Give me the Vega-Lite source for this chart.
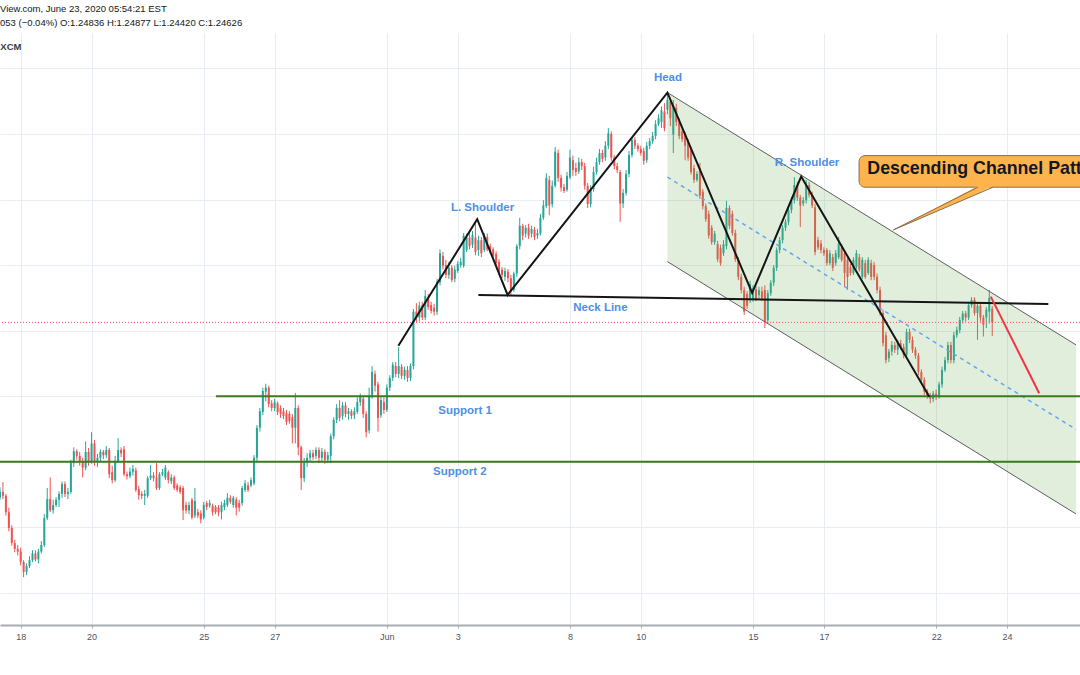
{
"$schema":"https://vega.github.io/schema/vega-lite/v6.json",
"width":1080,"height":592,"autosize":"none",
"padding":{"left":0,"top":33,"right":0,"bottom":50},
"background":"#ffffff",
"title":{"text":"View.com, June 23, 2020 05:54:21 EST","subtitle":"053 (−0.04%) O:1.24836 H:1.24877 L:1.24420 C:1.24626","anchor":"start","frame":"group","offset":6,"font":"Liberation Sans","fontSize":9.5,"fontWeight":"normal","color":"#131722","subtitleFont":"Liberation Sans","subtitleFontSize":9.5,"subtitleColor":"#131722","subtitlePadding":4},
"datasets":{
"candles":[
{"s":0,"o":1.2196,"h":1.2211,"l":1.2192,"c":1.2204},{"s":1,"o":1.2204,"h":1.2219,"l":1.2193,"c":1.2198},{"s":2,"o":1.2198,"h":1.2201,"l":1.2168,"c":1.2173},{"s":3,"o":1.2173,"h":1.218,"l":1.2144,"c":1.2149},{"s":4,"o":1.2149,"h":1.2153,"l":1.2122,"c":1.2126},{"s":5,"o":1.2126,"h":1.2131,"l":1.2112,"c":1.2117},{"s":6,"o":1.2117,"h":1.2123,"l":1.2107,"c":1.2113},{"s":7,"o":1.2113,"h":1.2119,"l":1.2092,"c":1.2097},{"s":8,"o":1.2097,"h":1.21,"l":1.2074,"c":1.2082},{"s":9,"o":1.2082,"h":1.2095,"l":1.2077,"c":1.2091},
{"s":10,"o":1.2091,"h":1.2106,"l":1.2088,"c":1.21},{"s":11,"o":1.21,"h":1.2115,"l":1.2097,"c":1.211},{"s":12,"o":1.211,"h":1.2115,"l":1.2098,"c":1.2101},{"s":13,"o":1.2101,"h":1.2117,"l":1.2095,"c":1.2113},{"s":14,"o":1.2113,"h":1.2129,"l":1.211,"c":1.2123},{"s":15,"o":1.2123,"h":1.217,"l":1.212,"c":1.2164},{"s":16,"o":1.2164,"h":1.221,"l":1.2161,"c":1.2193},{"s":17,"o":1.2193,"h":1.2226,"l":1.2173,"c":1.2176},{"s":18,"o":1.2176,"h":1.2192,"l":1.2171,"c":1.2184},{"s":19,"o":1.2184,"h":1.2196,"l":1.2181,"c":1.2192},
{"s":20,"o":1.2192,"h":1.2205,"l":1.2181,"c":1.2201},{"s":21,"o":1.2201,"h":1.222,"l":1.2195,"c":1.2216},{"s":22,"o":1.2216,"h":1.222,"l":1.2196,"c":1.2201},{"s":23,"o":1.2201,"h":1.221,"l":1.2193,"c":1.2204},{"s":24,"o":1.2204,"h":1.2253,"l":1.2201,"c":1.2248},{"s":25,"o":1.2248,"h":1.2272,"l":1.2242,"c":1.2266},{"s":26,"o":1.2266,"h":1.2269,"l":1.2253,"c":1.2259},{"s":27,"o":1.2259,"h":1.2265,"l":1.2244,"c":1.225},{"s":28,"o":1.225,"h":1.2256,"l":1.2226,"c":1.2241},{"s":29,"o":1.2241,"h":1.2281,"l":1.2237,"c":1.2265},
{"s":30,"o":1.2265,"h":1.2271,"l":1.2244,"c":1.2251},{"s":31,"o":1.2251,"h":1.2295,"l":1.2247,"c":1.2278},{"s":32,"o":1.2278,"h":1.2283,"l":1.2244,"c":1.225},{"s":33,"o":1.225,"h":1.2262,"l":1.2242,"c":1.2256},{"s":34,"o":1.2256,"h":1.2269,"l":1.2251,"c":1.2265},{"s":35,"o":1.2265,"h":1.2268,"l":1.2254,"c":1.226},{"s":36,"o":1.226,"h":1.2274,"l":1.2256,"c":1.2268},{"s":37,"o":1.2268,"h":1.2271,"l":1.2225,"c":1.2231},{"s":38,"o":1.2234,"h":1.2244,"l":1.2217,"c":1.2222},{"s":39,"o":1.2222,"h":1.2259,"l":1.2219,"c":1.2251},
{"s":40,"o":1.2251,"h":1.2286,"l":1.2248,"c":1.2268},{"s":41,"o":1.2268,"h":1.2272,"l":1.2257,"c":1.2263},{"s":42,"o":1.2269,"h":1.2274,"l":1.2228,"c":1.2231},{"s":43,"o":1.2231,"h":1.2235,"l":1.2223,"c":1.2228},{"s":44,"o":1.2228,"h":1.2241,"l":1.2225,"c":1.2235},{"s":45,"o":1.2235,"h":1.2245,"l":1.2229,"c":1.2239},{"s":46,"o":1.2237,"h":1.2241,"l":1.2204,"c":1.2207},{"s":47,"o":1.2208,"h":1.2213,"l":1.2192,"c":1.2199},{"s":48,"o":1.2201,"h":1.2205,"l":1.2193,"c":1.2198},{"s":49,"o":1.2198,"h":1.2207,"l":1.2184,"c":1.2201},
{"s":50,"o":1.2198,"h":1.2228,"l":1.2195,"c":1.2225},{"s":51,"o":1.2225,"h":1.2245,"l":1.2222,"c":1.2229},{"s":52,"o":1.2229,"h":1.2234,"l":1.222,"c":1.2225},{"s":53,"o":1.2226,"h":1.2248,"l":1.2207,"c":1.221},{"s":54,"o":1.221,"h":1.2234,"l":1.2207,"c":1.2231},{"s":55,"o":1.2231,"h":1.2239,"l":1.2228,"c":1.2234},{"s":56,"o":1.2226,"h":1.2245,"l":1.2222,"c":1.2241},{"s":57,"o":1.2234,"h":1.2237,"l":1.2217,"c":1.2222},{"s":58,"o":1.222,"h":1.2231,"l":1.2216,"c":1.2226},{"s":59,"o":1.2226,"h":1.2229,"l":1.2207,"c":1.221},
{"s":60,"o":1.2214,"h":1.2217,"l":1.2204,"c":1.2207},{"s":61,"o":1.2211,"h":1.2214,"l":1.2201,"c":1.2204},{"s":62,"o":1.221,"h":1.2213,"l":1.2161,"c":1.2176},{"s":63,"o":1.2184,"h":1.2189,"l":1.2171,"c":1.2176},{"s":64,"o":1.2176,"h":1.2189,"l":1.217,"c":1.2184},{"s":65,"o":1.2192,"h":1.2195,"l":1.2162,"c":1.2165},{"s":66,"o":1.2168,"h":1.221,"l":1.2164,"c":1.219},{"s":67,"o":1.2173,"h":1.2178,"l":1.2164,"c":1.2168},{"s":68,"o":1.2171,"h":1.2176,"l":1.2156,"c":1.2162},{"s":69,"o":1.2165,"h":1.2189,"l":1.2162,"c":1.2184},
{"s":70,"o":1.2187,"h":1.219,"l":1.2176,"c":1.2181},{"s":71,"o":1.2183,"h":1.2192,"l":1.218,"c":1.2187},{"s":72,"o":1.2183,"h":1.2186,"l":1.2168,"c":1.2173},{"s":73,"o":1.2181,"h":1.2184,"l":1.217,"c":1.2173},{"s":74,"o":1.218,"h":1.2184,"l":1.2167,"c":1.2173},{"s":75,"o":1.2173,"h":1.2189,"l":1.2162,"c":1.2184},{"s":76,"o":1.2181,"h":1.2192,"l":1.2176,"c":1.2187},{"s":77,"o":1.2184,"h":1.2202,"l":1.2181,"c":1.2195},{"s":78,"o":1.2195,"h":1.2199,"l":1.2186,"c":1.2189},{"s":79,"o":1.2184,"h":1.2198,"l":1.218,"c":1.2195},
{"s":80,"o":1.2192,"h":1.2196,"l":1.2168,"c":1.218},{"s":81,"o":1.2187,"h":1.2192,"l":1.2174,"c":1.218},{"s":82,"o":1.2187,"h":1.2213,"l":1.2183,"c":1.221},{"s":83,"o":1.2207,"h":1.2222,"l":1.2204,"c":1.2217},{"s":84,"o":1.2214,"h":1.2219,"l":1.2204,"c":1.2207},{"s":85,"o":1.2214,"h":1.2226,"l":1.2211,"c":1.2222},{"s":86,"o":1.2217,"h":1.226,"l":1.2214,"c":1.2256},{"s":87,"o":1.2256,"h":1.2306,"l":1.2251,"c":1.2302},{"s":88,"o":1.2302,"h":1.2332,"l":1.2296,"c":1.2327},{"s":89,"o":1.2326,"h":1.2363,"l":1.2321,"c":1.2358},
{"s":90,"o":1.2357,"h":1.2369,"l":1.2342,"c":1.2363},{"s":91,"o":1.2363,"h":1.2366,"l":1.2333,"c":1.2338},{"s":92,"o":1.2339,"h":1.2344,"l":1.2327,"c":1.2332},{"s":93,"o":1.2332,"h":1.2346,"l":1.2327,"c":1.2341},{"s":94,"o":1.2339,"h":1.2342,"l":1.2321,"c":1.2326},{"s":95,"o":1.2332,"h":1.2336,"l":1.2317,"c":1.2323},{"s":96,"o":1.2327,"h":1.2332,"l":1.2315,"c":1.232},{"s":97,"o":1.2324,"h":1.2329,"l":1.2306,"c":1.2311},{"s":98,"o":1.2323,"h":1.2327,"l":1.2308,"c":1.2312},{"s":99,"o":1.2318,"h":1.2323,"l":1.2278,"c":1.2302},
{"s":100,"o":1.2302,"h":1.2355,"l":1.2278,"c":1.2332},{"s":101,"o":1.2332,"h":1.2336,"l":1.226,"c":1.2272},{"s":102,"o":1.2272,"h":1.2275,"l":1.2207,"c":1.2225},{"s":103,"o":1.2225,"h":1.2256,"l":1.2219,"c":1.225},{"s":104,"o":1.225,"h":1.2263,"l":1.2242,"c":1.2256},{"s":105,"o":1.2256,"h":1.2268,"l":1.225,"c":1.2263},{"s":106,"o":1.2263,"h":1.2268,"l":1.2253,"c":1.2257},{"s":107,"o":1.2259,"h":1.2272,"l":1.2254,"c":1.2268},{"s":108,"o":1.2268,"h":1.2272,"l":1.2248,"c":1.2256},{"s":109,"o":1.2256,"h":1.2271,"l":1.2251,"c":1.2265},
{"s":110,"o":1.2265,"h":1.2269,"l":1.2247,"c":1.2253},{"s":111,"o":1.2253,"h":1.2265,"l":1.2248,"c":1.226},{"s":112,"o":1.2259,"h":1.2293,"l":1.2248,"c":1.2289},{"s":113,"o":1.2289,"h":1.2318,"l":1.2284,"c":1.2314},{"s":114,"o":1.2314,"h":1.2338,"l":1.2309,"c":1.2332},{"s":115,"o":1.2332,"h":1.2344,"l":1.2312,"c":1.2317},{"s":116,"o":1.232,"h":1.2341,"l":1.2314,"c":1.2336},{"s":117,"o":1.2336,"h":1.2341,"l":1.2318,"c":1.2323},{"s":118,"o":1.2323,"h":1.2332,"l":1.2314,"c":1.2327},{"s":119,"o":1.2327,"h":1.233,"l":1.2315,"c":1.232},
{"s":120,"o":1.2321,"h":1.2333,"l":1.2315,"c":1.2327},{"s":121,"o":1.2326,"h":1.2348,"l":1.2323,"c":1.2341},{"s":122,"o":1.2341,"h":1.2354,"l":1.2335,"c":1.2349},{"s":123,"o":1.2346,"h":1.2351,"l":1.2317,"c":1.2323},{"s":124,"o":1.2323,"h":1.2327,"l":1.2287,"c":1.2295},{"s":125,"o":1.2298,"h":1.2363,"l":1.2293,"c":1.2351},{"s":126,"o":1.2351,"h":1.2396,"l":1.2346,"c":1.2387},{"s":127,"o":1.2384,"h":1.2389,"l":1.2357,"c":1.2366},{"s":128,"o":1.2368,"h":1.2372,"l":1.2296,"c":1.2317},{"s":129,"o":1.2321,"h":1.2351,"l":1.2317,"c":1.2344},
{"s":130,"o":1.2341,"h":1.2348,"l":1.2323,"c":1.2329},{"s":131,"o":1.2329,"h":1.2368,"l":1.2326,"c":1.2363},{"s":132,"o":1.2363,"h":1.2382,"l":1.2358,"c":1.2378},{"s":133,"o":1.2378,"h":1.2402,"l":1.2373,"c":1.2398},{"s":134,"o":1.2396,"h":1.2402,"l":1.2379,"c":1.2384},{"s":135,"o":1.2384,"h":1.2425,"l":1.2378,"c":1.2396},{"s":136,"o":1.2395,"h":1.2399,"l":1.2376,"c":1.2381},{"s":137,"o":1.2381,"h":1.2395,"l":1.2375,"c":1.239},{"s":138,"o":1.239,"h":1.2396,"l":1.2372,"c":1.2378},{"s":139,"o":1.2378,"h":1.24,"l":1.2373,"c":1.2396},
{"s":140,"o":1.2396,"h":1.2483,"l":1.2391,"c":1.2479},{"s":141,"o":1.2479,"h":1.2492,"l":1.2463,"c":1.247},{"s":142,"o":1.247,"h":1.2494,"l":1.2464,"c":1.2488},{"s":143,"o":1.2489,"h":1.2494,"l":1.2466,"c":1.247},{"s":144,"o":1.247,"h":1.2512,"l":1.2466,"c":1.2503},{"s":145,"o":1.2501,"h":1.2506,"l":1.2482,"c":1.2486},{"s":146,"o":1.2489,"h":1.2494,"l":1.2476,"c":1.248},{"s":147,"o":1.2485,"h":1.2491,"l":1.2473,"c":1.2479},{"s":148,"o":1.2479,"h":1.2529,"l":1.2474,"c":1.2524},{"s":149,"o":1.2524,"h":1.2574,"l":1.2519,"c":1.2568},
{"s":150,"o":1.2564,"h":1.257,"l":1.2543,"c":1.2549},{"s":151,"o":1.255,"h":1.2558,"l":1.253,"c":1.2535},{"s":152,"o":1.2535,"h":1.2555,"l":1.2529,"c":1.2546},{"s":153,"o":1.2546,"h":1.255,"l":1.2524,"c":1.2527},{"s":154,"o":1.2529,"h":1.2549,"l":1.2524,"c":1.2543},{"s":155,"o":1.2541,"h":1.2556,"l":1.2538,"c":1.2552},{"s":156,"o":1.255,"h":1.2561,"l":1.2546,"c":1.2555},{"s":157,"o":1.2549,"h":1.2599,"l":1.2546,"c":1.2595},{"s":158,"o":1.2573,"h":1.2598,"l":1.257,"c":1.2592},{"s":159,"o":1.2592,"h":1.2599,"l":1.2574,"c":1.2579},
{"s":160,"o":1.2581,"h":1.2602,"l":1.2576,"c":1.2596},{"s":161,"o":1.2592,"h":1.2614,"l":1.2565,"c":1.257},{"s":162,"o":1.2573,"h":1.2595,"l":1.2564,"c":1.2588},{"s":163,"o":1.2588,"h":1.2593,"l":1.2562,"c":1.2568},{"s":164,"o":1.2573,"h":1.2599,"l":1.257,"c":1.2595},{"s":165,"o":1.2593,"h":1.2598,"l":1.2571,"c":1.2574},{"s":166,"o":1.2579,"h":1.2583,"l":1.2567,"c":1.2571},{"s":167,"o":1.2574,"h":1.2577,"l":1.2561,"c":1.2564},{"s":168,"o":1.2567,"h":1.2571,"l":1.2549,"c":1.2553},{"s":169,"o":1.2555,"h":1.2559,"l":1.2535,"c":1.254},
{"s":170,"o":1.2543,"h":1.2547,"l":1.253,"c":1.2535},{"s":171,"o":1.2532,"h":1.2546,"l":1.2526,"c":1.2541},{"s":172,"o":1.254,"h":1.2544,"l":1.2524,"c":1.253},{"s":173,"o":1.253,"h":1.2535,"l":1.2504,"c":1.251},{"s":174,"o":1.2512,"h":1.254,"l":1.2509,"c":1.2537},{"s":175,"o":1.2537,"h":1.2582,"l":1.2532,"c":1.2579},{"s":176,"o":1.2579,"h":1.2622,"l":1.2574,"c":1.261},{"s":177,"o":1.261,"h":1.2613,"l":1.2588,"c":1.2595},{"s":178,"o":1.2598,"h":1.2611,"l":1.2592,"c":1.2607},{"s":179,"o":1.2607,"h":1.2613,"l":1.259,"c":1.2595},
{"s":180,"o":1.2598,"h":1.261,"l":1.2592,"c":1.2605},{"s":181,"o":1.2604,"h":1.2608,"l":1.2588,"c":1.2593},{"s":182,"o":1.2595,"h":1.2605,"l":1.259,"c":1.2599},{"s":183,"o":1.2598,"h":1.2628,"l":1.2595,"c":1.2622},{"s":184,"o":1.2622,"h":1.2649,"l":1.2619,"c":1.2641},{"s":185,"o":1.264,"h":1.269,"l":1.2637,"c":1.2683},{"s":186,"o":1.268,"h":1.2686,"l":1.2626,"c":1.2641},{"s":187,"o":1.2643,"h":1.2679,"l":1.2638,"c":1.2671},{"s":188,"o":1.2671,"h":1.273,"l":1.2668,"c":1.2723},{"s":189,"o":1.2721,"h":1.2726,"l":1.2677,"c":1.2683},
{"s":190,"o":1.2683,"h":1.2688,"l":1.2662,"c":1.2668},{"s":191,"o":1.2669,"h":1.2674,"l":1.266,"c":1.2663},{"s":192,"o":1.2665,"h":1.2692,"l":1.2662,"c":1.2686},{"s":193,"o":1.2684,"h":1.2726,"l":1.2681,"c":1.2714},{"s":194,"o":1.271,"h":1.2717,"l":1.2686,"c":1.2695},{"s":195,"o":1.2698,"h":1.2706,"l":1.2686,"c":1.2692},{"s":196,"o":1.2693,"h":1.2714,"l":1.2689,"c":1.2707},{"s":197,"o":1.2707,"h":1.2712,"l":1.2695,"c":1.2701},{"s":198,"o":1.2701,"h":1.2706,"l":1.2665,"c":1.2671},{"s":199,"o":1.2671,"h":1.2675,"l":1.2637,"c":1.2643},
{"s":200,"o":1.2643,"h":1.2672,"l":1.2638,"c":1.2666},{"s":201,"o":1.2666,"h":1.27,"l":1.2662,"c":1.2692},{"s":202,"o":1.2692,"h":1.2714,"l":1.2688,"c":1.2707},{"s":203,"o":1.2707,"h":1.2727,"l":1.2703,"c":1.2721},{"s":204,"o":1.2721,"h":1.2726,"l":1.2707,"c":1.2712},{"s":205,"o":1.2714,"h":1.2739,"l":1.2709,"c":1.2732},{"s":206,"o":1.2732,"h":1.2759,"l":1.2727,"c":1.2751},{"s":207,"o":1.275,"h":1.2754,"l":1.2709,"c":1.2714},{"s":208,"o":1.2714,"h":1.2718,"l":1.2696,"c":1.2701},{"s":209,"o":1.2701,"h":1.2706,"l":1.269,"c":1.2695},
{"s":210,"o":1.2692,"h":1.2695,"l":1.2616,"c":1.2644},{"s":211,"o":1.2644,"h":1.2666,"l":1.2637,"c":1.266},{"s":212,"o":1.266,"h":1.2695,"l":1.2656,"c":1.2689},{"s":213,"o":1.2689,"h":1.2724,"l":1.2684,"c":1.2718},{"s":214,"o":1.2718,"h":1.2745,"l":1.2714,"c":1.2741},{"s":215,"o":1.2741,"h":1.2745,"l":1.2727,"c":1.2732},{"s":216,"o":1.2732,"h":1.2736,"l":1.2723,"c":1.2727},{"s":217,"o":1.2727,"h":1.2732,"l":1.2717,"c":1.2721},{"s":218,"o":1.2724,"h":1.2729,"l":1.2703,"c":1.2709},{"s":219,"o":1.271,"h":1.2738,"l":1.2706,"c":1.2732},
{"s":220,"o":1.2732,"h":1.2744,"l":1.2727,"c":1.2739},{"s":221,"o":1.2739,"h":1.2753,"l":1.2735,"c":1.2747},{"s":222,"o":1.2747,"h":1.2771,"l":1.2742,"c":1.2765},{"s":223,"o":1.2765,"h":1.278,"l":1.2762,"c":1.2774},{"s":224,"o":1.2768,"h":1.2792,"l":1.2759,"c":1.2786},{"s":225,"o":1.2784,"h":1.2797,"l":1.2754,"c":1.2759},{"s":226,"o":1.2787,"h":1.2813,"l":1.278,"c":1.2802},{"s":227,"o":1.2799,"h":1.2804,"l":1.2762,"c":1.2774},{"s":228,"o":1.2749,"h":1.2802,"l":1.2721,"c":1.2793},{"s":229,"o":1.279,"h":1.2796,"l":1.2762,"c":1.2768},
{"s":230,"o":1.2768,"h":1.2774,"l":1.2742,"c":1.2747},{"s":231,"o":1.2754,"h":1.2759,"l":1.2738,"c":1.2742},{"s":232,"o":1.2749,"h":1.2753,"l":1.271,"c":1.2732},{"s":233,"o":1.2738,"h":1.2742,"l":1.2709,"c":1.2714},{"s":234,"o":1.2726,"h":1.273,"l":1.2688,"c":1.2692},{"s":235,"o":1.2698,"h":1.2703,"l":1.2675,"c":1.268},{"s":236,"o":1.268,"h":1.2693,"l":1.2677,"c":1.2689},{"s":237,"o":1.2698,"h":1.2706,"l":1.2651,"c":1.2656},{"s":238,"o":1.2662,"h":1.2666,"l":1.2635,"c":1.264},{"s":239,"o":1.264,"h":1.2644,"l":1.2616,"c":1.262},
{"s":240,"o":1.2628,"h":1.2633,"l":1.259,"c":1.2595},{"s":241,"o":1.2607,"h":1.2611,"l":1.2581,"c":1.2585},{"s":242,"o":1.2585,"h":1.2602,"l":1.2581,"c":1.2598},{"s":243,"o":1.2582,"h":1.2587,"l":1.2555,"c":1.2559},{"s":244,"o":1.2576,"h":1.2581,"l":1.2549,"c":1.2553},{"s":245,"o":1.2568,"h":1.2588,"l":1.2564,"c":1.2582},{"s":246,"o":1.2579,"h":1.2648,"l":1.2574,"c":1.2637},{"s":247,"o":1.2637,"h":1.2641,"l":1.2605,"c":1.261},{"s":248,"o":1.2628,"h":1.2633,"l":1.2595,"c":1.2599},{"s":249,"o":1.2599,"h":1.2604,"l":1.2555,"c":1.2559},
{"s":250,"o":1.2558,"h":1.2562,"l":1.2527,"c":1.2532},{"s":251,"o":1.2532,"h":1.2537,"l":1.2507,"c":1.2512},{"s":252,"o":1.2512,"h":1.2517,"l":1.2474,"c":1.2479},{"s":253,"o":1.2506,"h":1.251,"l":1.2483,"c":1.2488},{"s":254,"o":1.2497,"h":1.2526,"l":1.2492,"c":1.2521},{"s":255,"o":1.2498,"h":1.2519,"l":1.2494,"c":1.2515},{"s":256,"o":1.2513,"h":1.2518,"l":1.2495,"c":1.2498},{"s":257,"o":1.2504,"h":1.2517,"l":1.2498,"c":1.2512},{"s":258,"o":1.251,"h":1.2517,"l":1.2495,"c":1.25},{"s":259,"o":1.2512,"h":1.2519,"l":1.2454,"c":1.2463},
{"s":260,"o":1.2466,"h":1.2512,"l":1.2461,"c":1.2507},{"s":261,"o":1.2507,"h":1.2527,"l":1.2503,"c":1.2523},{"s":262,"o":1.2523,"h":1.255,"l":1.2518,"c":1.2546},{"s":263,"o":1.2546,"h":1.2577,"l":1.2541,"c":1.2573},{"s":264,"o":1.2573,"h":1.2593,"l":1.2568,"c":1.2588},{"s":265,"o":1.2588,"h":1.2611,"l":1.2583,"c":1.2607},{"s":266,"o":1.2607,"h":1.262,"l":1.2602,"c":1.2616},{"s":267,"o":1.2616,"h":1.2638,"l":1.2611,"c":1.2634},{"s":268,"o":1.2634,"h":1.2654,"l":1.2629,"c":1.2649},{"s":269,"o":1.2649,"h":1.2684,"l":1.2644,"c":1.2672},
{"s":270,"o":1.2672,"h":1.2677,"l":1.2648,"c":1.2653},{"s":271,"o":1.2653,"h":1.2657,"l":1.2608,"c":1.2641},{"s":272,"o":1.2644,"h":1.2654,"l":1.264,"c":1.2649},{"s":273,"o":1.2649,"h":1.268,"l":1.2644,"c":1.2672},{"s":274,"o":1.2672,"h":1.2677,"l":1.2653,"c":1.2657},{"s":275,"o":1.2657,"h":1.2662,"l":1.2637,"c":1.2641},{"s":276,"o":1.2638,"h":1.2643,"l":1.2565,"c":1.257},{"s":277,"o":1.2588,"h":1.2593,"l":1.2573,"c":1.2577},{"s":278,"o":1.2583,"h":1.2588,"l":1.2568,"c":1.2573},{"s":279,"o":1.2573,"h":1.2577,"l":1.2564,"c":1.2568},
{"s":280,"o":1.2573,"h":1.2576,"l":1.2549,"c":1.2553},{"s":281,"o":1.2553,"h":1.2573,"l":1.255,"c":1.2568},{"s":282,"o":1.2562,"h":1.2567,"l":1.2541,"c":1.2546},{"s":283,"o":1.2553,"h":1.2573,"l":1.2549,"c":1.2568},{"s":284,"o":1.2562,"h":1.2593,"l":1.2559,"c":1.2583},{"s":285,"o":1.2577,"h":1.2582,"l":1.2555,"c":1.2558},{"s":286,"o":1.2568,"h":1.2573,"l":1.2517,"c":1.2538},{"s":287,"o":1.2558,"h":1.2562,"l":1.2512,"c":1.2532},{"s":288,"o":1.2547,"h":1.2552,"l":1.2534,"c":1.2538},{"s":289,"o":1.2538,"h":1.2562,"l":1.2535,"c":1.2558},
{"s":290,"o":1.2547,"h":1.2573,"l":1.2544,"c":1.2568},{"s":291,"o":1.2562,"h":1.2567,"l":1.254,"c":1.2543},{"s":292,"o":1.2532,"h":1.2562,"l":1.2529,"c":1.2558},{"s":293,"o":1.2553,"h":1.2558,"l":1.2529,"c":1.2532},{"s":294,"o":1.2538,"h":1.2562,"l":1.2535,"c":1.2558},{"s":295,"o":1.2553,"h":1.2558,"l":1.2527,"c":1.2532},{"s":296,"o":1.255,"h":1.2555,"l":1.2527,"c":1.2532},{"s":297,"o":1.2532,"h":1.2537,"l":1.2507,"c":1.2512},{"s":298,"o":1.2512,"h":1.2517,"l":1.2473,"c":1.2477},{"s":299,"o":1.2477,"h":1.2482,"l":1.2426,"c":1.2431},
{"s":300,"o":1.2443,"h":1.2448,"l":1.24,"c":1.2405},{"s":301,"o":1.2408,"h":1.2422,"l":1.2402,"c":1.2418},{"s":302,"o":1.2418,"h":1.2434,"l":1.2412,"c":1.2428},{"s":303,"o":1.2428,"h":1.2433,"l":1.2416,"c":1.2421},{"s":304,"o":1.2421,"h":1.2436,"l":1.2413,"c":1.2431},{"s":305,"o":1.2431,"h":1.2436,"l":1.2421,"c":1.2425},{"s":306,"o":1.2425,"h":1.243,"l":1.2408,"c":1.2413},{"s":307,"o":1.2413,"h":1.2453,"l":1.2408,"c":1.2448},{"s":308,"o":1.2448,"h":1.2453,"l":1.2431,"c":1.2436},{"s":309,"o":1.2436,"h":1.2441,"l":1.2416,"c":1.2421},
{"s":310,"o":1.2421,"h":1.2425,"l":1.2407,"c":1.2412},{"s":311,"o":1.2412,"h":1.2416,"l":1.2382,"c":1.2387},{"s":312,"o":1.2387,"h":1.2391,"l":1.237,"c":1.2375},{"s":313,"o":1.2375,"h":1.2379,"l":1.2352,"c":1.2357},{"s":314,"o":1.2357,"h":1.2361,"l":1.2346,"c":1.2351},{"s":315,"o":1.2351,"h":1.2355,"l":1.2339,"c":1.2346},{"s":316,"o":1.2346,"h":1.2358,"l":1.2341,"c":1.2354},{"s":317,"o":1.2354,"h":1.236,"l":1.2344,"c":1.2349},{"s":318,"o":1.2349,"h":1.2372,"l":1.2346,"c":1.2368},{"s":319,"o":1.2368,"h":1.2395,"l":1.2363,"c":1.239},
{"s":320,"o":1.239,"h":1.241,"l":1.2387,"c":1.2405},{"s":321,"o":1.2405,"h":1.2433,"l":1.24,"c":1.2428},{"s":322,"o":1.2428,"h":1.2433,"l":1.24,"c":1.2405},{"s":323,"o":1.2405,"h":1.2448,"l":1.24,"c":1.2443},{"s":324,"o":1.2443,"h":1.2456,"l":1.2439,"c":1.2451},{"s":325,"o":1.2451,"h":1.2471,"l":1.2446,"c":1.2466},{"s":326,"o":1.2466,"h":1.248,"l":1.2461,"c":1.2476},{"s":327,"o":1.2476,"h":1.248,"l":1.2464,"c":1.247},{"s":328,"o":1.247,"h":1.2494,"l":1.2466,"c":1.2489},{"s":329,"o":1.2489,"h":1.2501,"l":1.2485,"c":1.2497},
{"s":330,"o":1.2497,"h":1.2501,"l":1.2473,"c":1.2477},{"s":331,"o":1.2477,"h":1.2492,"l":1.2436,"c":1.2488},{"s":332,"o":1.2488,"h":1.2492,"l":1.2464,"c":1.247},{"s":333,"o":1.247,"h":1.2474,"l":1.2441,"c":1.2459},{"s":334,"o":1.247,"h":1.2486,"l":1.2454,"c":1.2482},{"s":335,"o":1.2479,"h":1.2512,"l":1.2461,"c":1.25},{"s":336,"o":1.24836,"h":1.24877,"l":1.2442,"c":1.24626}
],
"zig":[{"s":134.9,"p":1.2427},{"s":161.6,"p":1.262},{"s":171.9,"p":1.25045},{"s":226.0,"p":1.28131},{"s":254.7,"p":1.25075},{"s":271.3,"p":1.2685},{"s":314.7,"p":1.2349}],
"neck":[{"s":162.0,"p":1.25045},{"s":355.0,"p":1.24907}],
"arrow":[{"s":335.5,"p":1.25019},{"s":351.9,"p":1.23545}],
"chan":[{"s":226.0,"up":1.28131,"lo":1.25553,"mid":1.26842},{"s":364.4,"up":1.24282,"lo":1.21703,"mid":1.22992}],
"support":[{"s1":73.1,"s2":365.72,"p":1.235},{"s1":0,"s2":365.72,"p":1.225}],
"labels":[{"s":226.2,"p":1.28314,"t":"Head"},{"s":163.4,"p":1.26319,"t":"L. Shoulder"},{"s":273.3,"p":1.27005,"t":"R. Shoulder"},{"s":203.3,"p":1.24801,"t":"Neck Line"},{"s":157.5,"p":1.23229,"t":"Support 1"},{"s":155.7,"p":1.22298,"t":"Support 2"}],
"box":[{"s1":290.9,"s2":372,"p1":1.2717,"p2":1.26688}],
"pointer":[{"s":302.5,"a":1.26036,"b":1.26036},{"s":331.2,"a":1.26705,"b":1.2659},{"s":336.3,"a":1.26705,"b":1.26705}],
"ptrEdges":[{"s":302.5,"p":1.26036,"e":"a"},{"s":331.2,"p":1.26688,"e":"a"},{"s":302.5,"p":1.26036,"e":"b"},{"s":336.3,"p":1.26688,"e":"b"}],
"callout":[{"s":293.7,"p":1.26892,"t":"Descending Channel Pattern"}],
"last":[{"p":1.24626}],
"src":[{"s":0.1,"p":1.28783,"t":"XCM"}]
},
"layer":[
{"data":{"name":"candles"},"mark":{"type":"rule","strokeWidth":1},
 "encoding":{
  "x":{"field":"s","type":"quantitative","title":null,"scale":{"domain":[0,365.72],"nice":false,"zero":false,"padding":0},
   "axis":{"values":[7,31,69,93,131,155,193,217,255,279,317,341],"labelExpr":"datum.value==7?'18':datum.value==31?'20':datum.value==69?'25':datum.value==93?'27':datum.value==131?'Jun':datum.value==155?'3':datum.value==193?'8':datum.value==217?'10':datum.value==255?'15':datum.value==279?'17':datum.value==317?'22':'24'","grid":true,"gridColor":"#e8edf3","gridWidth":1,"domainColor":"#a9acb4","domainWidth":2,"tickColor":"#a9acb4","tickSize":3,"labelFont":"Liberation Sans","labelFontSize":9,"labelColor":"#50535e","labelPadding":4,"labelFlush":false,"title":null}},
  "y":{"field":"l","type":"quantitative","title":null,"scale":{"domain":[1.2001,1.2904],"nice":false,"zero":false,"padding":0},
   "axis":{"values":[1.205,1.21,1.215,1.22,1.225,1.23,1.235,1.24,1.245,1.25,1.255,1.26,1.265,1.27,1.275,1.28,1.285,1.29],"labels":false,"ticks":false,"domain":false,"grid":true,"gridColor":"#e8edf3","gridWidth":1,"title":null}},
  "y2":{"field":"h"},
  "color":{"condition":{"test":"datum.c < datum.o","value":"#ef5350"},"value":"#26a69a"}}},
{"data":{"name":"candles"},"mark":{"type":"bar","width":2},
 "encoding":{"x":{"field":"s","type":"quantitative","title":null},"y":{"field":"o","type":"quantitative","title":null},"y2":{"field":"c"},
  "color":{"condition":{"test":"datum.c < datum.o","value":"#ef5350"},"value":"#26a69a"}}},
{"data":{"name":"chan"},"mark":{"type":"area","color":"#6aa84f","opacity":0.2},
 "encoding":{"x":{"field":"s","type":"quantitative","title":null},"y":{"field":"up","type":"quantitative","title":null},"y2":{"field":"lo"}}},
{"data":{"name":"last"},"mark":{"type":"rule","color":"#f7525f","strokeWidth":1,"strokeDash":[1,2]},
 "encoding":{"y":{"field":"p","type":"quantitative","title":null}}},
{"data":{"name":"chan"},"mark":{"type":"line","color":"#5f5f5f","strokeWidth":1},
 "encoding":{"x":{"field":"s","type":"quantitative","title":null},"y":{"field":"up","type":"quantitative","title":null}}},
{"data":{"name":"chan"},"mark":{"type":"line","color":"#5f5f5f","strokeWidth":1},
 "encoding":{"x":{"field":"s","type":"quantitative","title":null},"y":{"field":"lo","type":"quantitative","title":null}}},
{"data":{"name":"chan"},"mark":{"type":"line","color":"#62a6ee","strokeWidth":1.5,"strokeDash":[4,4]},
 "encoding":{"x":{"field":"s","type":"quantitative","title":null},"y":{"field":"mid","type":"quantitative","title":null}}},
{"data":{"name":"support"},"mark":{"type":"rule","color":"#3b7a1f","strokeWidth":2},
 "encoding":{"x":{"field":"s1","type":"quantitative","title":null},"x2":{"field":"s2"},"y":{"field":"p","type":"quantitative","title":null}}},
{"data":{"name":"neck"},"mark":{"type":"line","color":"#151515","strokeWidth":2},
 "encoding":{"x":{"field":"s","type":"quantitative","title":null},"y":{"field":"p","type":"quantitative","title":null}}},
{"data":{"name":"zig"},"mark":{"type":"line","color":"#151515","strokeWidth":2},
 "encoding":{"x":{"field":"s","type":"quantitative","title":null},"y":{"field":"p","type":"quantitative","title":null}}},
{"data":{"name":"arrow"},"mark":{"type":"line","color":"#f23645","strokeWidth":2},
 "encoding":{"x":{"field":"s","type":"quantitative","title":null},"y":{"field":"p","type":"quantitative","title":null}}},
{"data":{"name":"labels"},"mark":{"type":"text","font":"Liberation Sans","fontSize":11.5,"fontWeight":"bold","color":"#4f8fe6","align":"center","baseline":"alphabetic"},
 "encoding":{"x":{"field":"s","type":"quantitative","title":null},"y":{"field":"p","type":"quantitative","title":null},"text":{"field":"t"}}},
{"data":{"name":"box"},"mark":{"type":"rect","fill":"#ffb34d","stroke":"#85704f","strokeWidth":1,"cornerRadius":6,"clip":true},
 "encoding":{"x":{"field":"s1","type":"quantitative","title":null},"x2":{"field":"s2"},"y":{"field":"p1","type":"quantitative","title":null},"y2":{"field":"p2"}}},
{"data":{"name":"pointer"},"mark":{"type":"area","color":"#ffb34d","opacity":1},
 "encoding":{"x":{"field":"s","type":"quantitative","title":null},"y":{"field":"a","type":"quantitative","title":null},"y2":{"field":"b"}}},
{"data":{"name":"ptrEdges"},"mark":{"type":"line","color":"#85704f","strokeWidth":1},
 "encoding":{"x":{"field":"s","type":"quantitative","title":null},"y":{"field":"p","type":"quantitative","title":null},"detail":{"field":"e"}}},
{"data":{"name":"callout"},"mark":{"type":"text","font":"Liberation Sans","fontSize":17.8,"fontWeight":"bold","color":"#131722","align":"left","baseline":"alphabetic"},
 "encoding":{"x":{"field":"s","type":"quantitative","title":null},"y":{"field":"p","type":"quantitative","title":null},"text":{"field":"t"}}},
{"data":{"name":"src"},"mark":{"type":"text","font":"Liberation Sans","fontSize":9.5,"fontWeight":"bold","color":"#3a3d45","align":"left","baseline":"alphabetic"},
 "encoding":{"x":{"field":"s","type":"quantitative","title":null},"y":{"field":"p","type":"quantitative","title":null},"text":{"field":"t"}}},
{"mark":{"type":"rule","color":"#a9acb4","strokeWidth":2},"encoding":{"y":{"datum":1.2904}}},
{"mark":{"type":"rule","color":"#a9acb4","strokeWidth":2},"encoding":{"y":{"datum":1.19674}}}
],
"config":{"view":{"stroke":null}}
}
